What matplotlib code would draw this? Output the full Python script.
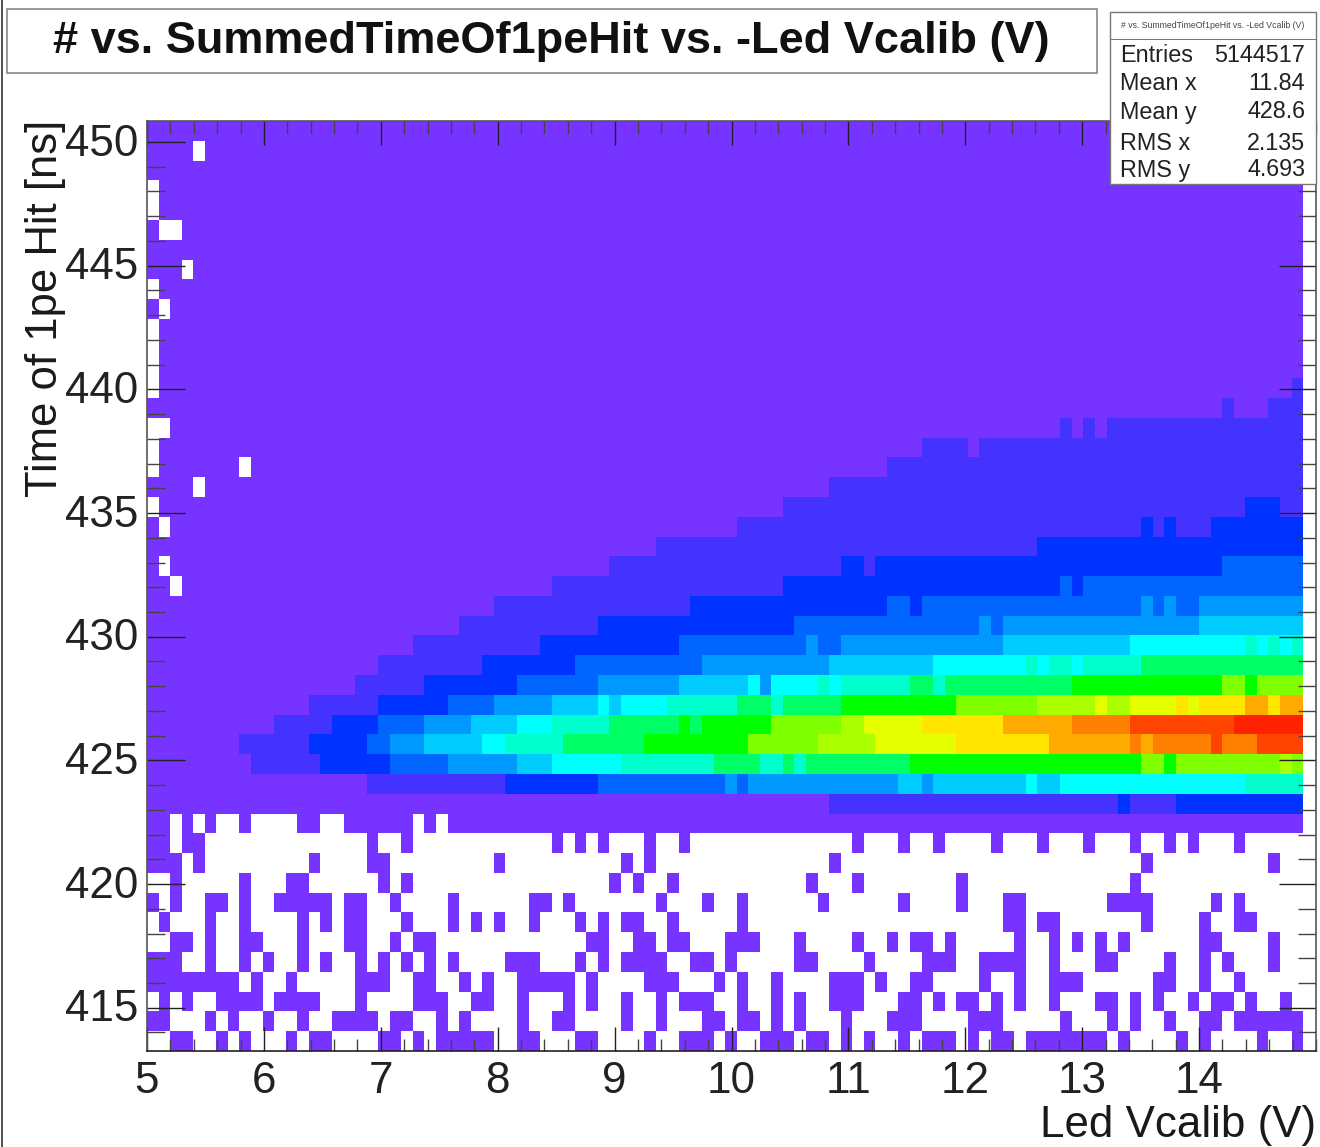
import numpy as np
from matplotlib import pyplot as plt
from matplotlib.colors import ListedColormap
from matplotlib.patches import Rectangle
from matplotlib.ticker import MultipleLocator
from matplotlib.transforms import ScaledTranslation

plt.rcParams['font.family'] = ['Liberation Sans', 'DejaVu Sans']

W, H = 1320, 1147
NX, NY = 100, 47

# bin edges
x_edges = 5 + 0.0989 * np.arange(NX + 1)
y_edges = 413.25 + 0.8 * np.arange(NY + 1)

# colour levels, lowest to highest
level_colors = ['#7733ff', '#4433ff', '#0033ff', '#0066ff', '#0099ff', '#00ccff',
                '#00ffff', '#00ffcc', '#00ff66', '#00ff00', '#80ff00', '#aaff00',
                '#e5ff00', '#ffe500', '#ffaa00', '#ff8000', '#ff4400', '#ff2200']

# rows 0-11: filled columns (level 0), the rest of the row is empty
sparse_rows = [
    "2-3 6 8 12 14-15 20-21 23 25-29 32-33 37-38 43 46-48 50 53-55 57-58 60 62 65 67-69 71 73-74 76-82 84 89 91 96 99",
    "0-1 5 7 10 13 16-19 21-22 25 27 32 35-36 41 44 48-49 51-52 54 56 60 64-66 71-73 79 83 85 88 91-92 94-99",
    "1 3 6-9 11-14 18 23-25 28-29 32 36 38 41 44 46-48 51 54 56 59-61 65-66 68 70-71 73 75 78 82-83 85 87 90 92-93 95 98",
    "0-7 9 12 18-20 23-24 27 29 32-36 38 43-45 49 51 54 59-61 63 66-67 72 75 78-80 87-88 91 94",
    "0-2 5 8 10 13 15 18 20 22 24 26 31-33 37 39 41-44 47-48 50 56-57 62 67-69 72-75 78 82-83 88 91 93 97",
    "2-3 5 8-9 13 17-18 21 23-24 38-39 42-43 45-46 50-52 56 61 64 66-67 69 75 78 80 82 84 91-92 97",
    "1 5 8 13 15 17-18 22 26 28 30 33 37 39 41-42 45 51 74-75 77-78 86 91 94-95",
    "0 2 5-6 8 11-15 17-18 21 26 33-34 36 44 48 51 58 65 70 74-75 83-86 92 94",
    "2 8 12-13 20 22 40 42 45 57 61 70 85",
    "0-2 4 14 19-20 30 41 43 59 86 97",
    "0-1 3-4 19 22 35 37 39 43 46 61 65 68 73 77 81 85 88 90 94",
    "0-1 3 5 8 13-14 17-22 24 26-99",
]

# rows 12-33: (first column, level) runs
band_rows = [
    [(0,0),(59,1),(84,2),(85,1),(89,2)],
    [(0,0),(19,1),(31,2),(39,3),(50,4),(51,3),(52,4),(65,5),(67,4),(68,5),(76,6),(77,5),(79,6),(95,7)],
    [(0,0),(9,1),(15,2),(21,3),(26,4),(32,5),(35,6),(41,7),(49,8),(53,7),(55,8),(56,7),(57,8),(66,9),(86,10),(88,9),(89,10),(98,11),(99,10)],
    [(0,0),(8,1),(14,2),(19,3),(21,4),(24,5),(29,6),(31,7),(36,8),(43,9),(52,10),(58,11),(63,12),(70,13),(78,14),(85,15),(86,14),(87,15),(92,16),(93,15),(96,16)],
    [(0,0),(11,1),(16,2),(20,3),(24,4),(28,5),(32,6),(35,7),(40,8),(46,9),(47,8),(48,9),(54,10),(60,11),(62,12),(67,13),(74,14),(80,15),(85,16),(94,17)],
    [(0,0),(14,1),(20,2),(26,3),(30,4),(35,5),(39,6),(40,5),(41,6),(45,7),(51,8),(54,7),(55,8),(60,9),(70,10),(77,11),(82,12),(83,11),(85,12),(89,13),(90,12),(91,13),(95,14),(97,13),(98,14)],
    [(0,0),(18,1),(24,2),(32,3),(39,4),(46,5),(52,6),(53,4),(54,6),(58,7),(59,6),(60,7),(66,8),(68,7),(69,8),(80,9),(93,10),(95,9),(96,10)],
    [(0,0),(20,1),(29,2),(37,3),(48,4),(59,5),(68,6),(76,7),(77,6),(78,7),(80,6),(81,7),(86,8)],
    [(0,0),(23,1),(34,2),(46,3),(57,4),(58,3),(60,4),(74,5),(85,6),(95,7),(96,6),(97,7),(98,6),(99,7)],
    [(0,0),(27,1),(39,2),(56,3),(72,4),(73,3),(74,4),(91,5)],
    [(0,0),(30,1),(47,2),(64,3),(66,2),(67,3),(86,4),(87,3),(88,4),(89,3),(91,4)],
    [(0,0),(35,1),(55,2),(79,3),(80,2),(81,3)],
    [(0,0),(40,1),(60,2),(62,1),(63,2),(93,3)],
    [(0,0),(44,1),(77,2)],
    [(0,0),(51,1),(86,2),(87,1),(88,2),(89,1),(92,2)],
    [(0,0),(55,1),(95,2),(98,1)],
    [(0,0),(59,1)],
    [(0,0),(64,1)],
    [(0,0),(67,1),(71,0),(72,1)],
    [(0,0),(79,1),(80,0),(81,1),(82,0),(83,1)],
    [(0,0),(93,1),(94,0),(97,1)],
    [(0,0),(99,1)],
]

# empty cells above row 11, as (row, column)
holes = [(45,4),(43,0),(42,0),(41,1),(41,2),(39,3),(38,0),(37,1),(36,0),(35,0),(34,0),(33,0),
         (31,0),(31,1),(30,0),(29,0),(29,8),(28,4),(27,0),(26,1),(24,1),(23,2)]

stat_names = ['Entries', 'Mean x', 'Mean y', 'RMS x', 'RMS y']
stat_values = ['5144517', '11.84', '428.6', '2.135', '4.693']
stat_rows_y = [55, 84, 112, 143, 170]

x_ticks = [5, 6, 7, 8, 9, 10, 11, 12, 13, 14]
y_ticks = [415, 420, 425, 430, 435, 440, 445, 450]

title = "# vs. SummedTimeOf1peHit vs. -Led Vcalib (V)"


def parse_cols(s):
    cols = []
    for part in s.split():
        if '-' in part:
            a, b = part.split('-')
            cols += list(range(int(a), int(b) + 1))
        else:
            cols.append(int(part))
    return cols


levels = np.zeros((NY, NX))
for r, s in enumerate(sparse_rows):
    levels[r, :] = np.nan
    levels[r, parse_cols(s)] = 0
for i, runs in enumerate(band_rows):
    for j, (start, lev) in enumerate(runs):
        stop = runs[j + 1][0] if j + 1 < len(runs) else NX
        levels[12 + i, start:stop] = lev
for r, c in holes:
    levels[r, c] = np.nan

fig = plt.figure(figsize=(W / 100, H / 100), dpi=100, facecolor='white')


def fx(px):
    return px / W


def fy(py):
    return 1 - py / H


# axes frame in pixels
ax = fig.add_axes([fx(147), fy(1051), (1316 - 147) / W, (1051 - 121) / H])

cmap = ListedColormap(level_colors)
cmap.set_bad('white')
ax.pcolormesh(x_edges, y_edges, np.ma.masked_invalid(levels), cmap=cmap,
              vmin=-0.5, vmax=len(level_colors) - 0.5, antialiased=False, linewidth=0)

ax.set_xlim(5, 15)
ax.set_ylim(y_edges[0], y_edges[-1])
ax.set_xticks(x_ticks)
ax.set_yticks(y_ticks)
ax.xaxis.set_minor_locator(MultipleLocator(0.2))
ax.yaxis.set_minor_locator(MultipleLocator(1))
ax.tick_params(which='major', direction='in', top=True, right=True, labelsize=31.7, colors='#222222')
ax.tick_params(axis='x', which='major', length=17, width=1, pad=7)
ax.tick_params(axis='y', which='major', length=27, width=1, pad=6)
ax.tick_params(axis='x', which='minor', direction='in', top=True, length=9, width=1, color='#444444')
ax.tick_params(axis='y', which='minor', direction='in', right=True, length=13, width=1, color='#444444')
for lab in ax.get_yticklabels():
    lab.set_transform(lab.get_transform() + ScaledTranslation(0, 2.5 / 100, fig.dpi_scale_trans))
for s in ax.spines.values():
    s.set_color('#555555')
    s.set_linewidth(1.2)
ax.spines['bottom'].set_color('#222222')

fig.text(fx(1316), fy(1125), "Led Vcalib (V)", fontsize=31.6, ha='right', va='center', color='#1a1a1a')
fig.text(fx(46), fy(120), "Time of 1pe Hit [ns]", fontsize=31.4, rotation=90, ha='center', va='top', color='#1a1a1a')

# title box
fig.add_artist(Rectangle((fx(7), fy(73)), 1090 / W, 64 / H, transform=fig.transFigure,
                         facecolor='white', edgecolor='#888888', linewidth=1.2))
fig.text(fx(551), fy(41), title, fontsize=32.5, fontweight='bold', ha='center', va='center', color='#111111')

# left edge of the canvas
fig.add_artist(Rectangle((fx(1), 0), 1.5 / W, 1, transform=fig.transFigure,
                         facecolor='#555555', edgecolor='none'))

# stats box
stats_box = Rectangle((fx(1110), fy(184)), 206 / W, 172 / H, transform=fig.transFigure,
                      facecolor='white', edgecolor='#777777', linewidth=1, zorder=5)
fig.add_artist(stats_box)
fig.add_artist(Rectangle((fx(1110), fy(40)), 206 / W, 0.8 / H, transform=fig.transFigure,
                         facecolor='#777777', edgecolor='none', zorder=6))
fig.text(fx(1213), fy(26), title, fontsize=6.3, ha='center', va='center', color='#444444', zorder=6)
for name, val, py in zip(stat_names, stat_values, stat_rows_y):
    fig.text(fx(1120), fy(py), name, fontsize=16.8, ha='left', va='center', color='#222222', zorder=6)
    fig.text(fx(1305), fy(py), val, fontsize=16.8, ha='right', va='center', color='#222222', zorder=6)

plt.savefig("out.png", dpi=100)
